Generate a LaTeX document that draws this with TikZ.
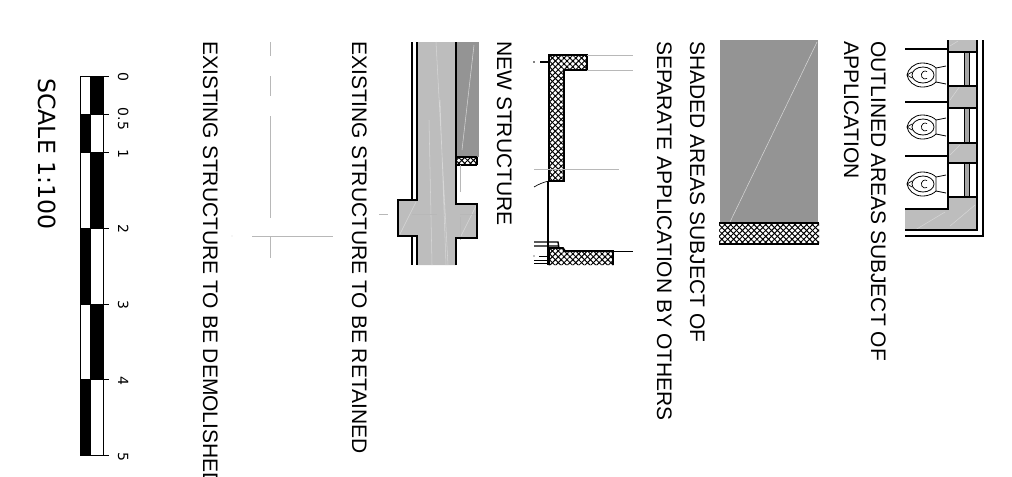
\documentclass[tikz,border=0pt]{standalone}
\usepackage{fontspec}
\setmainfont{Liberation Sans}
\newfontfamily\dejavu{DejaVu Sans}
\usetikzlibrary{patterns.meta}
\definecolor{wallgrey}{gray}{0.74}
\definecolor{darkgrey}{gray}{0.58}
\definecolor{linegrey}{gray}{0.72}
\definecolor{streak}{gray}{0.84}
\tikzset{
  x=0.75pt,y=-0.75pt,
  legend/.style={rotate=-90,anchor=base west,inner sep=0pt,font=\fontsize{15.75pt}{18pt}\selectfont},
  scaletitle/.style={rotate=-90,anchor=base west,inner sep=0pt,font=\dejavu\fontsize{17.7pt}{20pt}\selectfont},
  digit/.style={rotate=-90,anchor=base,inner sep=0pt,font=\dejavu\fontsize{10.5pt}{12pt}\selectfont},
  heavy/.style={line width=1.5pt,black},
  medium/.style={line width=1pt,black},
  thinline/.style={line width=.5pt,black},
  greyline/.style={line width=.75pt,linegrey},
  streakline/.style={line width=.4pt,streak},
  hatch/.style={fill=white,preaction={fill=white},
     postaction={pattern={Lines[angle=45,distance=3.1pt,line width=.75pt]}},
     postaction={pattern={Lines[angle=-45,distance=3.1pt,line width=.75pt]}}},
  barblack/.style={fill=black,draw=black,line width=.5pt},
  barwhite/.style={fill=white,draw=black,line width=.75pt},
}
\newcommand{\wc}[1]{%
  \begin{scope}[shift={(0,#1)}]
    \draw[line width=.6pt] (907,0) .. controls (908,-6) and (914,-12) .. (922,-12) .. controls (930,-12) and (934,-9) .. (936,-7) -- (936,7) .. controls (934,9) and (930,12) .. (922,12) .. controls (914,12) and (908,6) .. (907,0) -- cycle;
    \draw[line width=.6pt] (923,0) ellipse [x radius=11,y radius=8];
    \draw[line width=.5pt] (907,0) -- (912,-3) (907,0) -- (912,3);
    \draw[line width=.5pt] (927,3.5) arc (60:300:3.8 and 4);
    \draw[line width=.6pt] (936,-7) -- (946,-9) (936,7) -- (946,9);
  \end{scope}}
\begin{document}
\begin{tikzpicture}
\useasboundingbox (0,0) rectangle (1012,476);
% --- toilets / outlined area
\fill[wallgrey] (948,40) -- (977,40) -- (977,230) -- (905,230) -- (905,209) -- (948,209) -- cycle;
\fill[white] (948,52) rectangle (977,86) (948,108) rectangle (977,143) (948,163) rectangle (977,197);
\draw[streakline] (950,100) -- (960,86) (950,155) -- (960,145) (915,230) -- (945,212) (950,226) -- (975,205) (950,46) -- (958,41);
\foreach \a/\b in {52/86,108/143,163/197}{
  \fill[gray!70] (964,\a) rectangle (969,\b);
  \draw[thinline] (964,\a) -- (964,\b) (969,\a) -- (969,\b);
  \draw[medium] (948,\a) -- (977,\a) (948,\b) -- (977,\b);
}
\draw[heavy] (948,40) -- (948,209) -- (905,209);
\draw[heavy] (905,49) -- (948,49) (905,102) -- (948,102) (905,156) -- (948,156);
\draw[medium] (977,40) -- (977,230) -- (905,230);
\draw[heavy] (983,40) -- (983,236) -- (905,236);
\wc{75}\wc{127}\wc{184}
% --- shaded area
\fill[darkgrey] (720,40) rectangle (818,222);
\draw[streakline] (730,222) -- (817,42);
\path[hatch] (719,222) rectangle (819,244);
\draw[heavy] (719,222.5) -- (819,222.5) (719,243.5) -- (819,243.5);
% --- new structure
\path[hatch] (549,55) -- (587,55) -- (587,70) -- (564,70) -- (564,181) -- (549,181) -- cycle;
\draw[line width=1.3pt] (549,55) -- (587,55) -- (587,70) -- (564,70) -- (564,181) -- (549,181) -- cycle;
\path[hatch] (549,248) -- (563,248) -- (565,251) -- (613,251) -- (613,265) -- (549,265) -- cycle;
\draw[line width=1.3pt] (549,265) -- (549,248) -- (563,248) -- (565,251) -- (613,251) -- (613,265);
\draw[greyline] (587,55) -- (633,55) (587,70) -- (633,70) (534,169) -- (619,169);
\draw[thinline] (613,251) -- (633,251);
\draw[line width=.8pt] (548,181) -- (548,265);
\draw[thinline] (534,187) .. controls (539,184) and (544,182) .. (549,181);
\draw[medium] (540,62) -- (548,62);
\fill (534,62) circle (.8);
\draw[medium] (534,242) -- (558,242) -- (559,248) (534,246) -- (558,246);
\draw[thinline] (539,256) -- (548,256) (534,260) -- (548,260) (534,263) -- (548,263);
\fill (534,256) circle (.7);
% --- existing structure retained
\fill[wallgrey] (417,42) -- (456,42) -- (456,204) -- (477,204) -- (477,238) -- (456,238) -- (456,265) -- (417,265) -- (417,236) -- (398,236) -- (398,200) -- (417,200) -- cycle;
\fill[darkgrey] (456,42) rectangle (479,157);
\draw[streakline] (436,42) -- (448,265) (429,120) -- (432,265) (440,100) -- (446,265) (400,234) -- (416,202) (461,236) -- (476,206) (462,150) -- (474,45);
\path[hatch] (456,157) rectangle (477,165);
\draw[medium] (456,157) -- (477,157) (456,165) -- (477,165) (477,157) -- (477,165);
\draw[greyline] (460,165) -- (460,192) (379,214) -- (388,214) (412,214) -- (437,214) (460,214) -- (478,214) (460,217) -- (460,240);
\draw[medium] (412,42) -- (412,199) (412,236) -- (412,265);
\draw[heavy] (417,42) -- (417,200) -- (398,200) -- (398,236) -- (417,236) -- (417,265);
\draw[heavy] (456,42) -- (456,204) -- (477,204) -- (477,238) -- (456,238) -- (456,265);
% --- existing structure to be demolished
\draw[greyline] (270,42) -- (270,56) (270,76) -- (270,96) (270,116) -- (270,218) (270,237) -- (270,258) (252,236) -- (333,236);
\fill[streak] (232,236) circle (.6);
% --- scale bar
\draw[barwhite] (80,76) rectangle (103,455);
\draw[line width=.75pt] (90,76) -- (90,455);
\foreach \a/\b in {76/114,152/228,304/379}{\draw[barblack] (90,\a) rectangle (103,\b);}
\foreach \a/\b in {114/152,228/304,379/455}{\draw[barblack] (80,\a) rectangle (90,\b);}
\foreach \t in {76,114,152,228,304,379,455}{\draw[line width=.75pt] (103,\t) -- (109,\t);}
\node[digit] (d0) at (118,77) {0};
\node[digit] (d05) at (118,119) {0.5};
\node[digit] (d1) at (118,154) {1};
\node[digit] (d2) at (118,229) {2};
\node[digit] (d3) at (118,305) {3};
\node[digit] (d4) at (118,381) {4};
\node[digit] (d5) at (118,457) {5};
\node[scaletitle] (scale) at (38,78) {SCALE 1:100};
% --- legends
\node[legend] (t1a) at (871,41) {OUTLINED AREAS SUBJECT OF};
\node[legend] (t1b) at (844,41) {APPLICATION};
\node[legend] (t2a) at (690,41) {SHADED AREAS SUBJECT OF};
\node[legend] (t2b) at (657,41) {SEPARATE APPLICATION BY OTHERS};
\node[legend] (t3) at (497,41) {NEW STRUCTURE};
\node[legend] (t4) at (352,41) {EXISTING STRUCTURE TO BE RETAINED};
\node[legend] (t5) at (203,41) {EXISTING STRUCTURE TO BE DEMOLISHED};
\end{tikzpicture}
\end{document}
